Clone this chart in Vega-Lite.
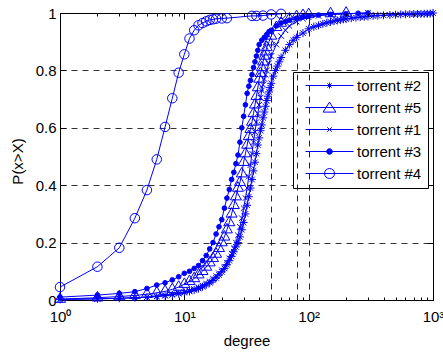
{
 "$schema": "https://vega.github.io/schema/vega-lite/v6.json",
 "width": 373, "height": 287,
 "autosize": "none",
 "padding": {"left": 60, "top": 13, "right": 10, "bottom": 52},
 "config": {"view": {"stroke": "#000", "strokeWidth": 1}, "font": "Liberation Sans"},
 "data": {"values": [
  {"series":"torrent #4","degree":1,"p":0.045},{"series":"torrent #4","degree":2,"p":0.116},{"series":"torrent #4","degree":3,"p":0.182},{"series":"torrent #4","degree":4,"p":0.285},{"series":"torrent #4","degree":5,"p":0.383},{"series":"torrent #4","degree":6,"p":0.49},{"series":"torrent #4","degree":7,"p":0.603},{"series":"torrent #4","degree":8,"p":0.703},{"series":"torrent #4","degree":9,"p":0.792},{"series":"torrent #4","degree":10,"p":0.856},{"series":"torrent #4","degree":11,"p":0.911},{"series":"torrent #4","degree":12,"p":0.94},{"series":"torrent #4","degree":13,"p":0.957},{"series":"torrent #4","degree":14,"p":0.965},{"series":"torrent #4","degree":15,"p":0.971},{"series":"torrent #4","degree":16,"p":0.976},{"series":"torrent #4","degree":17,"p":0.978},{"series":"torrent #4","degree":18,"p":0.98},{"series":"torrent #4","degree":20,"p":0.981},{"series":"torrent #4","degree":22,"p":0.982},{"series":"torrent #4","degree":35,"p":0.99},{"series":"torrent #4","degree":38,"p":0.99},{"series":"torrent #4","degree":43,"p":0.991},{"series":"torrent #4","degree":50,"p":0.995},{"series":"torrent #4","degree":60,"p":0.997},
  {"series":"torrent #3","degree":1,"p":0.01},{"series":"torrent #3","degree":2,"p":0.017},{"series":"torrent #3","degree":3,"p":0.023},{"series":"torrent #3","degree":4,"p":0.029},{"series":"torrent #3","degree":5,"p":0.04},{"series":"torrent #3","degree":6,"p":0.052},{"series":"torrent #3","degree":7,"p":0.06},{"series":"torrent #3","degree":8,"p":0.07},{"series":"torrent #3","degree":9,"p":0.081},{"series":"torrent #3","degree":10,"p":0.093},{"series":"torrent #3","degree":11,"p":0.1},{"series":"torrent #3","degree":12,"p":0.11},{"series":"torrent #3","degree":13,"p":0.12},{"series":"torrent #3","degree":14,"p":0.137},{"series":"torrent #3","degree":15,"p":0.155},{"series":"torrent #3","degree":16,"p":0.178},{"series":"torrent #3","degree":17,"p":0.2},{"series":"torrent #3","degree":18,"p":0.23},{"series":"torrent #3","degree":19,"p":0.255},{"series":"torrent #3","degree":20,"p":0.28},{"series":"torrent #3","degree":21,"p":0.32},{"series":"torrent #3","degree":22,"p":0.355},{"series":"torrent #3","degree":23,"p":0.385},{"series":"torrent #3","degree":24,"p":0.42},{"series":"torrent #3","degree":25,"p":0.445},{"series":"torrent #3","degree":26,"p":0.475},{"series":"torrent #3","degree":27,"p":0.505},{"series":"torrent #3","degree":28,"p":0.55},{"series":"torrent #3","degree":29,"p":0.6},{"series":"torrent #3","degree":30,"p":0.64},{"series":"torrent #3","degree":31,"p":0.68},{"series":"torrent #3","degree":32,"p":0.72},{"series":"torrent #3","degree":33,"p":0.745},{"series":"torrent #3","degree":34,"p":0.765},{"series":"torrent #3","degree":35,"p":0.785},{"series":"torrent #3","degree":36,"p":0.81},{"series":"torrent #3","degree":37,"p":0.83},{"series":"torrent #3","degree":38,"p":0.85},{"series":"torrent #3","degree":39,"p":0.87},{"series":"torrent #3","degree":40,"p":0.89},{"series":"torrent #3","degree":42,"p":0.905},{"series":"torrent #3","degree":44,"p":0.915},{"series":"torrent #3","degree":46,"p":0.925},{"series":"torrent #3","degree":48,"p":0.935},{"series":"torrent #3","degree":50,"p":0.94},{"series":"torrent #3","degree":55,"p":0.955},{"series":"torrent #3","degree":60,"p":0.965},{"series":"torrent #3","degree":65,"p":0.97},{"series":"torrent #3","degree":70,"p":0.975},{"series":"torrent #3","degree":80,"p":0.982},{"series":"torrent #3","degree":90,"p":0.987},{"series":"torrent #3","degree":100,"p":0.99},{"series":"torrent #3","degree":120,"p":0.993},{"series":"torrent #3","degree":150,"p":0.995},{"series":"torrent #3","degree":200,"p":0.997},{"series":"torrent #3","degree":250,"p":0.999},{"series":"torrent #3","degree":300,"p":1.0},
  {"series":"torrent #5","degree":1,"p":0.003},{"series":"torrent #5","degree":2,"p":0.008},{"series":"torrent #5","degree":3,"p":0.012},{"series":"torrent #5","degree":4,"p":0.016},{"series":"torrent #5","degree":5,"p":0.02},{"series":"torrent #5","degree":6,"p":0.025},{"series":"torrent #5","degree":7,"p":0.03},{"series":"torrent #5","degree":8,"p":0.037},{"series":"torrent #5","degree":9,"p":0.045},{"series":"torrent #5","degree":10,"p":0.055},{"series":"torrent #5","degree":11,"p":0.065},{"series":"torrent #5","degree":12,"p":0.075},{"series":"torrent #5","degree":13,"p":0.088},{"series":"torrent #5","degree":14,"p":0.1},{"series":"torrent #5","degree":15,"p":0.115},{"series":"torrent #5","degree":16,"p":0.13},{"series":"torrent #5","degree":17,"p":0.145},{"series":"torrent #5","degree":18,"p":0.16},{"series":"torrent #5","degree":19,"p":0.18},{"series":"torrent #5","degree":20,"p":0.2},{"series":"torrent #5","degree":21,"p":0.22},{"series":"torrent #5","degree":22,"p":0.245},{"series":"torrent #5","degree":23,"p":0.27},{"series":"torrent #5","degree":24,"p":0.3},{"series":"torrent #5","degree":25,"p":0.33},{"series":"torrent #5","degree":26,"p":0.36},{"series":"torrent #5","degree":27,"p":0.39},{"series":"torrent #5","degree":28,"p":0.41},{"series":"torrent #5","degree":29,"p":0.44},{"series":"torrent #5","degree":30,"p":0.48},{"series":"torrent #5","degree":31,"p":0.51},{"series":"torrent #5","degree":32,"p":0.54},{"series":"torrent #5","degree":33,"p":0.57},{"series":"torrent #5","degree":34,"p":0.595},{"series":"torrent #5","degree":35,"p":0.62},{"series":"torrent #5","degree":36,"p":0.65},{"series":"torrent #5","degree":37,"p":0.68},{"series":"torrent #5","degree":38,"p":0.71},{"series":"torrent #5","degree":39,"p":0.74},{"series":"torrent #5","degree":40,"p":0.77},{"series":"torrent #5","degree":41,"p":0.79},{"series":"torrent #5","degree":42,"p":0.81},{"series":"torrent #5","degree":43,"p":0.83},{"series":"torrent #5","degree":44,"p":0.85},{"series":"torrent #5","degree":45,"p":0.865},{"series":"torrent #5","degree":46,"p":0.88},{"series":"torrent #5","degree":48,"p":0.9},{"series":"torrent #5","degree":50,"p":0.92},{"series":"torrent #5","degree":55,"p":0.95},{"series":"torrent #5","degree":60,"p":0.965},{"series":"torrent #5","degree":70,"p":0.98},{"series":"torrent #5","degree":80,"p":0.988},{"series":"torrent #5","degree":90,"p":0.992},{"series":"torrent #5","degree":100,"p":0.995},{"series":"torrent #5","degree":150,"p":0.998},{"series":"torrent #5","degree":200,"p":1.0},
  {"series":"torrent #1","degree":1,"p":0.002},{"series":"torrent #1","degree":2,"p":0.004},{"series":"torrent #1","degree":3,"p":0.006},{"series":"torrent #1","degree":4,"p":0.008},{"series":"torrent #1","degree":5,"p":0.01},{"series":"torrent #1","degree":6,"p":0.013},{"series":"torrent #1","degree":7,"p":0.016},{"series":"torrent #1","degree":8,"p":0.02},{"series":"torrent #1","degree":9,"p":0.024},{"series":"torrent #1","degree":10,"p":0.028},{"series":"torrent #1","degree":11,"p":0.033},{"series":"torrent #1","degree":12,"p":0.038},{"series":"torrent #1","degree":13,"p":0.044},{"series":"torrent #1","degree":14,"p":0.05},{"series":"torrent #1","degree":15,"p":0.057},{"series":"torrent #1","degree":16,"p":0.065},{"series":"torrent #1","degree":17,"p":0.074},{"series":"torrent #1","degree":18,"p":0.083},{"series":"torrent #1","degree":19,"p":0.093},{"series":"torrent #1","degree":20,"p":0.104},{"series":"torrent #1","degree":21,"p":0.116},{"series":"torrent #1","degree":22,"p":0.13},{"series":"torrent #1","degree":23,"p":0.145},{"series":"torrent #1","degree":24,"p":0.162},{"series":"torrent #1","degree":25,"p":0.18},{"series":"torrent #1","degree":26,"p":0.2},{"series":"torrent #1","degree":27,"p":0.225},{"series":"torrent #1","degree":28,"p":0.255},{"series":"torrent #1","degree":29,"p":0.285},{"series":"torrent #1","degree":30,"p":0.32},{"series":"torrent #1","degree":31,"p":0.355},{"series":"torrent #1","degree":32,"p":0.39},{"series":"torrent #1","degree":33,"p":0.43},{"series":"torrent #1","degree":34,"p":0.47},{"series":"torrent #1","degree":35,"p":0.51},{"series":"torrent #1","degree":36,"p":0.55},{"series":"torrent #1","degree":37,"p":0.585},{"series":"torrent #1","degree":38,"p":0.62},{"series":"torrent #1","degree":39,"p":0.65},{"series":"torrent #1","degree":40,"p":0.68},{"series":"torrent #1","degree":41,"p":0.705},{"series":"torrent #1","degree":42,"p":0.73},{"series":"torrent #1","degree":43,"p":0.75},{"series":"torrent #1","degree":44,"p":0.77},{"series":"torrent #1","degree":45,"p":0.785},{"series":"torrent #1","degree":46,"p":0.8},{"series":"torrent #1","degree":48,"p":0.825},{"series":"torrent #1","degree":50,"p":0.85},{"series":"torrent #1","degree":55,"p":0.89},{"series":"torrent #1","degree":60,"p":0.92},{"series":"torrent #1","degree":65,"p":0.94},{"series":"torrent #1","degree":70,"p":0.955},{"series":"torrent #1","degree":80,"p":0.97},{"series":"torrent #1","degree":90,"p":0.98},{"series":"torrent #1","degree":100,"p":0.985},{"series":"torrent #1","degree":120,"p":0.99},{"series":"torrent #1","degree":150,"p":0.995},{"series":"torrent #1","degree":200,"p":0.998},{"series":"torrent #1","degree":300,"p":1.0},
  {"series":"torrent #2","degree":1,"p":0.002},{"series":"torrent #2","degree":2,"p":0.004},{"series":"torrent #2","degree":3,"p":0.006},{"series":"torrent #2","degree":4,"p":0.008},{"series":"torrent #2","degree":5,"p":0.01},{"series":"torrent #2","degree":6,"p":0.012},{"series":"torrent #2","degree":7,"p":0.015},{"series":"torrent #2","degree":8,"p":0.018},{"series":"torrent #2","degree":9,"p":0.022},{"series":"torrent #2","degree":10,"p":0.026},{"series":"torrent #2","degree":11,"p":0.03},{"series":"torrent #2","degree":12,"p":0.035},{"series":"torrent #2","degree":13,"p":0.04},{"series":"torrent #2","degree":14,"p":0.046},{"series":"torrent #2","degree":15,"p":0.053},{"series":"torrent #2","degree":16,"p":0.06},{"series":"torrent #2","degree":17,"p":0.068},{"series":"torrent #2","degree":18,"p":0.077},{"series":"torrent #2","degree":19,"p":0.087},{"series":"torrent #2","degree":20,"p":0.098},{"series":"torrent #2","degree":21,"p":0.11},{"series":"torrent #2","degree":22,"p":0.123},{"series":"torrent #2","degree":23,"p":0.137},{"series":"torrent #2","degree":24,"p":0.152},{"series":"torrent #2","degree":25,"p":0.168},{"series":"torrent #2","degree":26,"p":0.185},{"series":"torrent #2","degree":27,"p":0.2},{"series":"torrent #2","degree":28,"p":0.22},{"series":"torrent #2","degree":29,"p":0.245},{"series":"torrent #2","degree":30,"p":0.27},{"series":"torrent #2","degree":31,"p":0.3},{"series":"torrent #2","degree":32,"p":0.33},{"series":"torrent #2","degree":33,"p":0.36},{"series":"torrent #2","degree":34,"p":0.39},{"series":"torrent #2","degree":35,"p":0.42},{"series":"torrent #2","degree":36,"p":0.45},{"series":"torrent #2","degree":37,"p":0.48},{"series":"torrent #2","degree":38,"p":0.51},{"series":"torrent #2","degree":39,"p":0.54},{"series":"torrent #2","degree":40,"p":0.565},{"series":"torrent #2","degree":41,"p":0.59},{"series":"torrent #2","degree":42,"p":0.61},{"series":"torrent #2","degree":43,"p":0.635},{"series":"torrent #2","degree":44,"p":0.655},{"series":"torrent #2","degree":45,"p":0.675},{"series":"torrent #2","degree":46,"p":0.695},{"series":"torrent #2","degree":47,"p":0.71},{"series":"torrent #2","degree":48,"p":0.725},{"series":"torrent #2","degree":49,"p":0.74},{"series":"torrent #2","degree":50,"p":0.755},{"series":"torrent #2","degree":52,"p":0.78},{"series":"torrent #2","degree":54,"p":0.8},{"series":"torrent #2","degree":56,"p":0.815},{"series":"torrent #2","degree":58,"p":0.83},{"series":"torrent #2","degree":60,"p":0.845},{"series":"torrent #2","degree":65,"p":0.87},{"series":"torrent #2","degree":70,"p":0.89},{"series":"torrent #2","degree":75,"p":0.905},{"series":"torrent #2","degree":80,"p":0.915},{"series":"torrent #2","degree":90,"p":0.93},{"series":"torrent #2","degree":100,"p":0.945},{"series":"torrent #2","degree":110,"p":0.952},{"series":"torrent #2","degree":120,"p":0.957},{"series":"torrent #2","degree":130,"p":0.962},{"series":"torrent #2","degree":140,"p":0.966},{"series":"torrent #2","degree":150,"p":0.969},{"series":"torrent #2","degree":160,"p":0.972},{"series":"torrent #2","degree":170,"p":0.974},{"series":"torrent #2","degree":180,"p":0.976},{"series":"torrent #2","degree":190,"p":0.978},{"series":"torrent #2","degree":200,"p":0.979},{"series":"torrent #2","degree":220,"p":0.982},{"series":"torrent #2","degree":240,"p":0.984},{"series":"torrent #2","degree":260,"p":0.986},{"series":"torrent #2","degree":280,"p":0.987},{"series":"torrent #2","degree":300,"p":0.988},{"series":"torrent #2","degree":330,"p":0.99},{"series":"torrent #2","degree":360,"p":0.991},{"series":"torrent #2","degree":400,"p":0.992},{"series":"torrent #2","degree":450,"p":0.993},{"series":"torrent #2","degree":500,"p":0.994},{"series":"torrent #2","degree":550,"p":0.995},{"series":"torrent #2","degree":600,"p":0.9955},{"series":"torrent #2","degree":650,"p":0.996},{"series":"torrent #2","degree":700,"p":0.9965},{"series":"torrent #2","degree":750,"p":0.997},{"series":"torrent #2","degree":800,"p":0.997},{"series":"torrent #2","degree":850,"p":0.9975},{"series":"torrent #2","degree":900,"p":0.9975},{"series":"torrent #2","degree":950,"p":0.998},{"series":"torrent #2","degree":1000,"p":1.0}
 ]},
 "layer": [
  {
   "mark": {"type": "line", "stroke": "#0000ff", "strokeWidth": 1},
   "encoding": {
    "x": {"field": "degree", "type": "quantitative", "scale": {"type": "log", "domain": [1, 1000]},
     "axis": {"orient": "bottom", "values": [1,2,3,4,5,6,7,8,9,10,20,30,40,50,60,70,80,90,100,200,300,400,500,600,700,800,900,1000],
      "labelExpr": "datum.value==1?'10⁰':datum.value==10?'10¹':datum.value==100?'10²':datum.value==1000?'10³':''",
      "tickSize": {"condition": {"test": "datum.value==1||datum.value==10||datum.value==100||datum.value==1000", "value": -6}, "value": -3},
      "tickColor": "#000", "domain": false, "grid": false,
      "labelFont": "Liberation Sans", "labelFontSize": 15, "labelColor": "#000", "labelPadding": 15, "labelOverlap": false, "labelFlush": false, "labelDx": 2,
      "title": "degree", "titleFont": "Liberation Sans", "titleFontSize": 15, "titleFontWeight": "normal", "titleColor": "#000", "titleY": 40, "titleBaseline": "middle"}},
    "y": {"field": "p", "type": "quantitative", "scale": {"domain": [0, 1]},
     "axis": {"orient": "left", "values": [0, 0.2, 0.4, 0.6, 0.8, 1], "format": "~g",
      "tickSize": -6, "tickColor": "#000", "domain": false,
      "grid": true, "gridColor": "#333", "gridDash": [6, 5], "gridWidth": 1,
      "gridOpacity": {"condition": {"test": "datum.value==0||datum.value==1", "value": 0}, "value": 1},
      "labelFont": "Liberation Sans", "labelFontSize": 15, "labelColor": "#000", "labelPadding": 10,
      "title": "P(x>X)", "titleFont": "Liberation Sans", "titleFontSize": 15, "titleFontWeight": "normal", "titleColor": "#000",
      "titleX": -43, "titleY": 148, "titleAngle": -90, "titleBaseline": "middle", "titleAlign": "center"}},
    "detail": {"field": "series", "type": "nominal"}
   }
  },
  {
   "transform": [{"filter": "datum.series === 'torrent #2'"}],
   "mark": {"type": "point", "filled": false, "stroke": "#0000ff", "strokeWidth": 1, "opacity": 1, "size": 64,
    "shape": "M-1,0L1,0M0,-1L0,1M-0.7,-0.7L0.7,0.7M-0.7,0.7L0.7,-0.7"},
   "encoding": {
    "x": {"field": "degree", "type": "quantitative",
     "axis": {"orient": "top", "values": [1,2,3,4,5,6,7,8,9,10,20,30,40,50,60,70,80,90,100,200,300,400,500,600,700,800,900,1000],
      "labels": false, "domain": false, "title": null, "tickColor": "#000",
      "tickSize": {"condition": {"test": "datum.value==1||datum.value==10||datum.value==100||datum.value==1000", "value": -6}, "value": -3},
      "grid": true, "gridColor": "#222", "gridDash": [6, 5], "gridWidth": 1,
      "gridOpacity": {"condition": {"test": "datum.value==50||datum.value==80||datum.value==100", "value": 1}, "value": 0},
      "zindex": 1}},
    "y": {"field": "p", "type": "quantitative",
     "axis": {"orient": "right", "values": [0, 0.2, 0.4, 0.6, 0.8, 1], "labels": false, "domain": false, "grid": false, "title": null, "tickSize": -6, "tickColor": "#000"}}
   }
  },
  {
   "transform": [{"filter": "datum.series === 'torrent #5'"}],
   "mark": {"type": "point", "filled": false, "stroke": "#0000ff", "strokeWidth": 1, "opacity": 1, "size": 121, "shape": "M0,-1.15L1,0.58L-1,0.58Z"},
   "encoding": {
    "x": {"field": "degree", "type": "quantitative", "axis": null},
    "y": {"field": "p", "type": "quantitative", "axis": null}
   }
  },
  {
   "transform": [{"filter": "datum.series === 'torrent #1'"}],
   "mark": {"type": "point", "filled": false, "stroke": "#0000ff", "strokeWidth": 1, "opacity": 1, "size": 64, "shape": "M-0.7,-0.7L0.7,0.7M-0.7,0.7L0.7,-0.7"},
   "encoding": {
    "x": {"field": "degree", "type": "quantitative", "axis": null},
    "y": {"field": "p", "type": "quantitative", "axis": null}
   }
  },
  {
   "transform": [{"filter": "datum.series === 'torrent #3'"}],
   "mark": {"type": "point", "filled": true, "fill": "#0000ff", "stroke": "#0000ff", "strokeWidth": 1, "opacity": 1, "size": 22, "shape": "circle"},
   "encoding": {
    "x": {"field": "degree", "type": "quantitative", "axis": null},
    "y": {"field": "p", "type": "quantitative", "axis": null}
   }
  },
  {
   "transform": [{"filter": "datum.series === 'torrent #4'"}],
   "mark": {"type": "point", "filled": false, "stroke": "#0000ff", "strokeWidth": 1, "opacity": 1, "size": 90, "shape": "circle"},
   "encoding": {
    "x": {"field": "degree", "type": "quantitative", "axis": null},
    "y": {"field": "p", "type": "quantitative", "axis": null}
   }
  },
  {
   "transform": [{"filter": "false"}],
   "mark": {"type": "point", "filled": false, "stroke": "#0000ff", "strokeWidth": 1, "opacity": 1, "size": 64},
   "encoding": {
    "shape": {"field": "series", "type": "nominal",
     "scale": {"domain": ["torrent #2", "torrent #5", "torrent #1", "torrent #3", "torrent #4"],
      "range": ["M-6,0L6,0M-0.75,0L0.75,0M0,-0.75L0,0.75M-0.53,-0.53L0.53,0.53M-0.53,0.53L0.53,-0.53", "M-6,0L6,0M0,-1.35L1.6,1.15L-1.6,1.15Z", "M-6,0L6,0M-0.55,-0.55L0.55,0.55M-0.55,0.55L0.55,-0.55", "M-6,0L6,0M-0.7,0A0.7,0.7 0 1,0 0.7,0A0.7,0.7 0 1,0 -0.7,0", "M-6,0L6,0M-1.25,0A1.25,1.25 0 1,0 1.25,0A1.25,1.25 0 1,0 -1.25,0"]},
     "legend": {"title": null, "orient": "none", "legendX": 233, "legendY": 59,
      "fillColor": "#fff", "strokeColor": "#000", "padding": 6,
      "labelFont": "Liberation Sans", "labelFontSize": 15, "labelColor": "#000", "labelLimit": 0,
      "symbolSize": 64, "symbolOffset": 23, "labelOffset": 20, "rowPadding": 6, "symbolStrokeWidth": 1}},
    "fill": {"field": "series", "type": "nominal",
     "scale": {"domain": ["torrent #2", "torrent #5", "torrent #1", "torrent #3", "torrent #4"], "range": ["transparent", "transparent", "transparent", "#0000ff", "transparent"]}}
   }
  }
 ],
 "resolve": {"axis": {"x": "independent", "y": "independent"}}
}
